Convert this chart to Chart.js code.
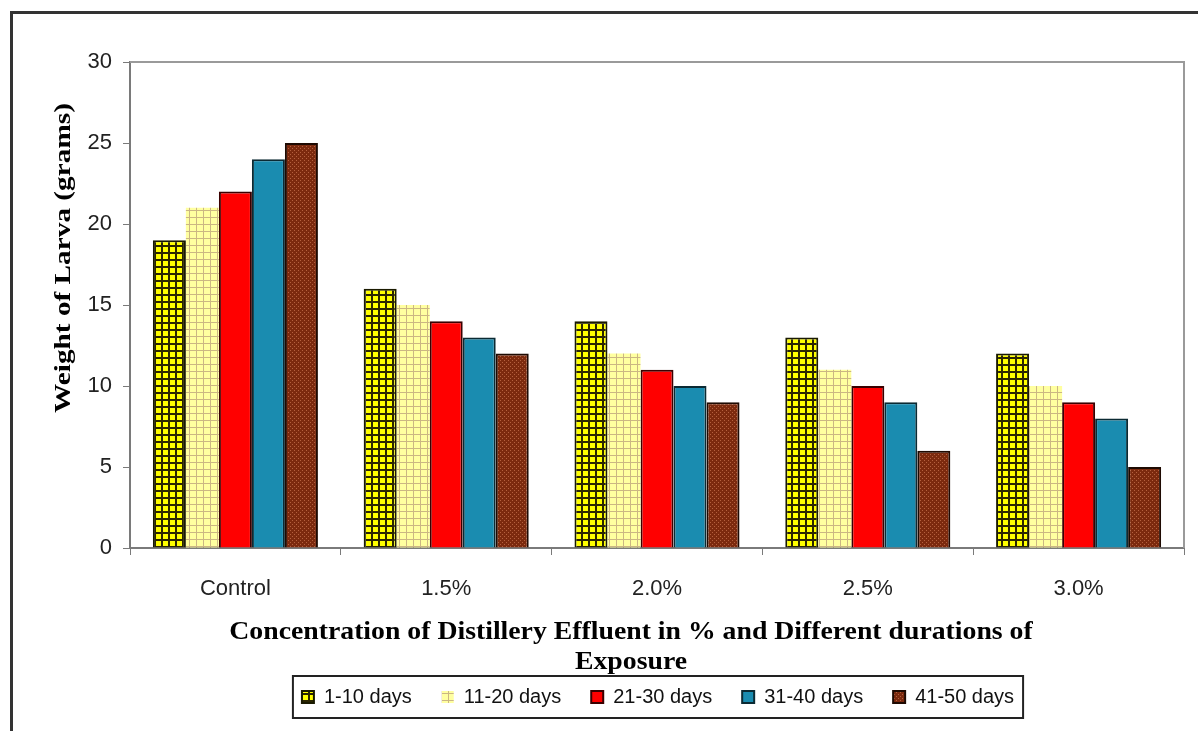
<!DOCTYPE html>
<html>
<head>
<meta charset="utf-8">
<script src="https://cdn.jsdelivr.net/npm/chart.js@4.4.1/dist/chart.umd.min.js"></script>
<style>
  html, body { margin: 0; padding: 0; background: #fff; }
  #wrap { position: relative; width: 1198px; height: 731px; overflow: hidden; }
  #frame { position: absolute; left: 10px; top: 11px; width: 1300px; height: 800px;
           border-top: 3px solid #333; border-left: 3px solid #333; box-sizing: border-box; }
  canvas { position: absolute; left: 0; top: 0; }
</style>
</head>
<body>
<div id="wrap">
  <div id="frame"></div>
  <canvas id="c" width="1198" height="731"></canvas>
</div>
<script>
// Concentration groups on the x axis
const categories = ['Control', '1.5%', '2.0%', '2.5%', '3.0%'];
// Exposure durations (one series each)
const seriesNames = ['1-10 days', '11-20 days', '21-30 days', '31-40 days', '41-50 days'];
// Larval weight in grams
const days1to10  = [19, 16, 14, 13, 12];
const days11to20 = [21, 15, 12, 11, 10];
const days21to30 = [22, 14, 11, 10, 9];
const days31to40 = [24, 13, 10, 9, 8];
const days41to50 = [25, 12, 9, 6, 5];
const yTicks = [0, 5, 10, 15, 20, 25, 30];

const yTitle = 'Weight of Larva (grams)';
const xTitleLines = ['Concentration of Distillery Effluent in % and Different durations of', 'Exposure'];

// --- fill patterns ---
function makePattern(size, paint) {
  const pc = document.createElement('canvas');
  pc.width = size; pc.height = size;
  const g = pc.getContext('2d');
  paint(g, size);
  return g.createPattern(pc, 'repeat');
}
const gridYellow = makePattern(7, (g, s) => {
  g.fillStyle = '#ffff00'; g.fillRect(0, 0, s, s);
  g.fillStyle = '#2b2600'; g.fillRect(0, 0, s, 2); g.fillRect(0, 0, 2, s);
});
const gridPale = makePattern(7, (g, s) => {
  g.fillStyle = '#ffffa0'; g.fillRect(0, 0, s, s);
  g.fillStyle = '#cbb683'; g.fillRect(0, 0, s, 1); g.fillRect(0, 0, 1, s);
});
const dotsBrown = makePattern(4, (g, s) => {
  g.fillStyle = '#7c2a0e'; g.fillRect(0, 0, s, s);
  g.fillStyle = '#b4603e'; g.fillRect(0, 0, 1, 1); g.fillRect(2, 2, 1, 1);
});

const fills = [gridYellow, gridPale, '#ff0000', '#1a8cb0', dotsBrown];
const edges = ['#1a1a00', 'rgba(0,0,0,0)', '#3a0000', '#0b2a33', '#1e0a02'];
const values = [days1to10, days11to20, days21to30, days31to40, days41to50];

const datasets = seriesNames.map((name, i) => ({
  label: name,
  data: values[i],
  backgroundColor: fills[i],
  borderColor: edges[i],
  borderWidth: i === 1 ? 0 : 2,
  borderSkipped: 'bottom'
}));

const serif = '"Liberation Serif", "Times New Roman", serif';
const sans = 'Liberation Sans, Arial, sans-serif';
const legendCenterX = 658;

// Frame around the plot area, box around the legend, and the axis titles
const decorations = {
  id: 'decorations',
  afterLayout(chart) {
    // centre the legend row under the title rather than the full canvas
    const lg = chart.legend;
    if (lg) {
      const shift = legendCenterX - (lg.left + lg.right) / 2;
      lg.left += shift;
      lg.right += shift;
    }
  },
  beforeDatasetsDraw(chart) {
    const { ctx, chartArea: a } = chart;
    ctx.save();
    ctx.strokeStyle = '#9a9a9a';
    ctx.lineWidth = 2;
    ctx.beginPath();
    ctx.moveTo(a.left, a.top); ctx.lineTo(a.right, a.top); ctx.lineTo(a.right, a.bottom);
    ctx.stroke();
    ctx.restore();
  },
  afterDraw(chart) {
    const { ctx } = chart;
    // y title
    ctx.save();
    ctx.fillStyle = '#000';
    ctx.font = 'bold 24px ' + serif;
    ctx.textAlign = 'center';
    ctx.textBaseline = 'middle';
    ctx.translate(64, 258);
    ctx.rotate(-Math.PI / 2);
    ctx.scale(1.22, 1);
    ctx.fillText(yTitle, 0, 0);
    ctx.restore();

    // x title, two lines
    ctx.save();
    ctx.fillStyle = '#000';
    ctx.font = 'bold 25px ' + serif;
    ctx.textAlign = 'center';
    ctx.textBaseline = 'middle';
    ctx.translate(631, 0);
    ctx.scale(1.11, 1);
    ctx.fillText(xTitleLines[0], 0, 633);
    ctx.fillText(xTitleLines[1], 0, 663);
    ctx.restore();

    // legend box
    const lg = chart.legend;
    if (lg && lg.legendHitBoxes && lg.legendHitBoxes.length) {
      const hb = lg.legendHitBoxes;
      const left = Math.min(...hb.map(h => h.left)) - 9;
      const right = Math.max(...hb.map(h => h.left + h.width)) + 9;
      const top = Math.min(...hb.map(h => h.top)) - 11;
      const bottom = Math.max(...hb.map(h => h.top + h.height)) + 11;
      ctx.save();
      ctx.strokeStyle = '#222';
      ctx.lineWidth = 2;
      ctx.strokeRect(left, top, right - left, bottom - top);
      ctx.restore();
    }
  }
};

new Chart(document.getElementById('c'), {
  type: 'bar',
  data: { labels: categories, datasets },
  options: {
    responsive: false,
    animation: false,
    layout: { padding: { left: 0, right: 14, top: 62, bottom: 14 } },
    datasets: { bar: { categoryPercentage: 0.783, barPercentage: 1.0 } },
    scales: {
      x: {
        grid: { display: true, drawOnChartArea: false, drawTicks: true, tickLength: 7, color: '#7a7a7a', offset: true },
        border: { display: true, color: '#7a7a7a', width: 2 },
        ticks: { color: '#222', font: { family: sans, size: 22 }, padding: 21 },
        afterFit(scale) { scale.height = 109; }
      },
      y: {
        min: 0, max: 30,
        afterBuildTicks(scale) { scale.ticks = yTicks.map(v => ({ value: v })); },
        grid: { display: true, drawOnChartArea: false, drawTicks: true, tickLength: 7, color: '#7a7a7a' },
        border: { display: true, color: '#7a7a7a', width: 2 },
        ticks: { color: '#222', font: { family: sans, size: 22 }, padding: 11 },
        afterFit(scale) { scale.width = 130; }
      }
    },
    plugins: {
      legend: {
        position: 'bottom',
        labels: {
          color: '#111',
          font: { family: sans, size: 20 },
          boxWidth: 12, boxHeight: 12, padding: 30
        }
      },
      tooltip: { enabled: false }
    }
  },
  plugins: [decorations]
});
</script>
</body>
</html>
